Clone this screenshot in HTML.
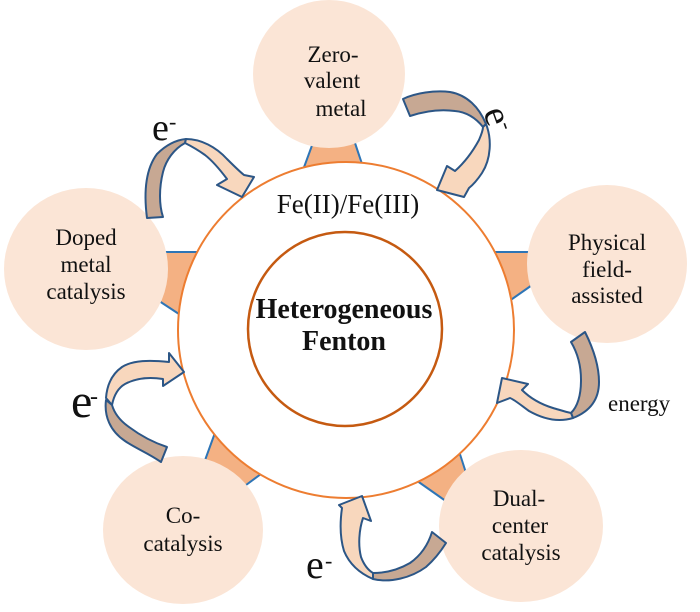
<!DOCTYPE html>
<html>
<head>
<meta charset="utf-8">
<style>
  html, body { margin: 0; padding: 0; background: #ffffff; }
  body { width: 700px; height: 612px; overflow: hidden; }
  svg { display: block; }
  text { font-family: "Liberation Serif", serif; }
</style>
</head>
<body>
<svg width="700" height="612" viewBox="0 0 700 612" xmlns="http://www.w3.org/2000/svg">
  <!-- connector wedges -->
  <g fill="#f4b183" stroke="none">
    <polygon points="314,140 354,140 364,176 302,176"/>
    <polygon points="155,252 205,252 185,318 150,295"/>
    <polygon points="490,252 535,252 535,283 505,304"/>
    <polygon points="204,463 216,430 265,471 242,488"/>
    <polygon points="413,478 458,448 467,476 450,504"/>
  </g>
  <g stroke="#2e75b6" stroke-width="2" fill="none">
    <line x1="314" y1="140" x2="303" y2="170"/>
    <line x1="354" y1="140" x2="364" y2="170"/>
    <line x1="155" y1="252" x2="205" y2="252"/>
    <line x1="150" y1="295" x2="185" y2="318"/>
    <line x1="490" y1="252" x2="535" y2="252"/>
    <line x1="505" y1="304" x2="535" y2="283"/>
    <line x1="204" y1="463" x2="216" y2="430"/>
    <line x1="242" y1="488" x2="265" y2="471"/>
    <line x1="458" y1="448" x2="467" y2="476"/>
    <line x1="413" y1="478" x2="450" y2="504"/>
  </g>

  <!-- satellite circles -->
  <g fill="#fbe5d6">
    <ellipse cx="329" cy="74" rx="76" ry="74"/>
    <ellipse cx="86" cy="269" rx="82" ry="81"/>
    <ellipse cx="607" cy="264" rx="80" ry="79"/>
    <ellipse cx="183" cy="530" rx="80" ry="74"/>
    <ellipse cx="521" cy="526" rx="82" ry="76"/>
  </g>

  <!-- main circles -->
  <circle cx="346" cy="330" r="168" fill="#ffffff" stroke="#ed7d31" stroke-width="2"/>
  <circle cx="345" cy="329" r="97" fill="none" stroke="#c55a11" stroke-width="2.5"/>

  <!-- arrows -->
  <g stroke="#2c5686" stroke-width="2" stroke-linejoin="round">
    <!-- A: Doped -> Fe -->
    <path fill="#c7a893" d="M147,218 C144,195 145,170 157,154 C166,145 176,140 186,139 L185,143 C174,149 166,160 163,172 C159,188 159,205 163,217 Z"/>
    <path fill="#f8d7bd" d="M186,139 C201,139 216,147 227,159 C234,166 239,171 244,175 L254,177 L242,197 L217,185 L227,179 C221,171 214,162 205,155 C198,150 191,146 185,143 Z"/>
    <!-- B: Zero-valent -> Fe -->
    <path fill="#c7a893" d="M403,99 C415,93 435,90 450,92 C467,95 479,107 486,124 L483,127 C475,117 466,112 455,111 C440,109 425,111 410,116 Z"/>
    <path fill="#f8d7bd" d="M486,124 C492,139 491,159 482,173 C478,179 474,184 469,188 L464,197 L437,190 L447,166 L455,171 C464,163 473,151 479,140 C482,133 483,130 483,127 Z"/>
    <!-- C: Physical -> Fe -->
    <path fill="#c7a893" d="M585,332 C594,350 599,368 599,382 C599,399 591,411 573,418 L571,413 C579,405 581,392 581,380 C581,365 577,352 571,342 Z"/>
    <path fill="#f8d7bd" d="M573,418 C560,422 545,420 529,411 C522,406 515,400 510,398 L497,403 L502,378 L528,384 L522,390 C530,398 540,404 553,408 C560,410 566,412 571,413 Z"/>
    <!-- D: Co-catalysis -> Fe -->
    <path fill="#f8d7bd" d="M106,398 C107,385 112,374 122,367 C133,360 150,360 169,362 L169,353 L184,372 L163,386 L163,379 C150,377 136,378 125,384 C118,388 114,395 112,405 Z"/>
    <path fill="#c7a893" d="M106,400 C104,416 110,431 125,441 C135,448 148,453 161,462 L167,447 C155,443 141,436 129,427 C119,420 114,412 112,405 Z"/>
    <!-- E: Dual-center -> Fe -->
    <path fill="#f8d7bd" d="M373,579 C359,573 349,563 344,551 C340,538 340,522 342,508 L339,505 L362,496 L371,521 L363,518 C359,530 358,545 361,557 C364,565 368,570 373,573 Z"/>
    <path fill="#c7a893" d="M373,579 C390,583 411,578 426,567 C434,560 441,551 446,543 L432,532 C428,545 420,556 410,563 C398,570 385,573 373,573 Z"/>
  </g>

  <!-- circle labels -->
  <g font-family="Liberation Serif, serif" font-size="23" fill="#111" text-anchor="middle">
    <text x="333" y="62">Zero-</text>
    <text x="332" y="88">valent</text>
    <text x="341" y="116">metal</text>

    <text x="86" y="245">Doped</text>
    <text x="86" y="272">metal</text>
    <text x="86" y="299">catalysis</text>

    <text x="607" y="250">Physical</text>
    <text x="607" y="277">field-</text>
    <text x="607" y="303">assisted</text>

    <text x="183" y="523">Co-</text>
    <text x="183" y="551">catalysis</text>

    <text x="519" y="506">Dual-</text>
    <text x="520" y="533">center</text>
    <text x="521" y="560">catalysis</text>
  </g>

  <text x="348" y="213" text-anchor="middle" font-family="Liberation Serif, serif" font-size="27" fill="#111">Fe(II)/Fe(III)</text>
  <text x="344" y="318" text-anchor="middle" font-family="Liberation Serif, serif" font-size="28" font-weight="bold" fill="#111">Heterogeneous</text>
  <text x="344" y="350" text-anchor="middle" font-family="Liberation Serif, serif" font-size="28" font-weight="bold" fill="#111">Fenton</text>

  <text x="608" y="411" font-family="Liberation Serif, serif" font-size="23" fill="#111">energy</text>

  <!-- e- labels -->
  <g font-family="Liberation Serif, serif" fill="#111">
    <text x="152" y="140" font-size="38">e</text>
    <text x="169" y="129" font-size="22">-</text>

    <text x="71" y="417" font-size="48">e</text>
    <text x="90" y="404" font-size="24">-</text>

    <text x="306" y="578" font-size="40">e</text>
    <text x="325" y="568" font-size="22">-</text>

    <g transform="translate(483,112) rotate(70)">
      <text x="0" y="0" font-size="38">e</text>
      <text x="17" y="-11" font-size="22">-</text>
    </g>
  </g>
</svg>
</body>
</html>
